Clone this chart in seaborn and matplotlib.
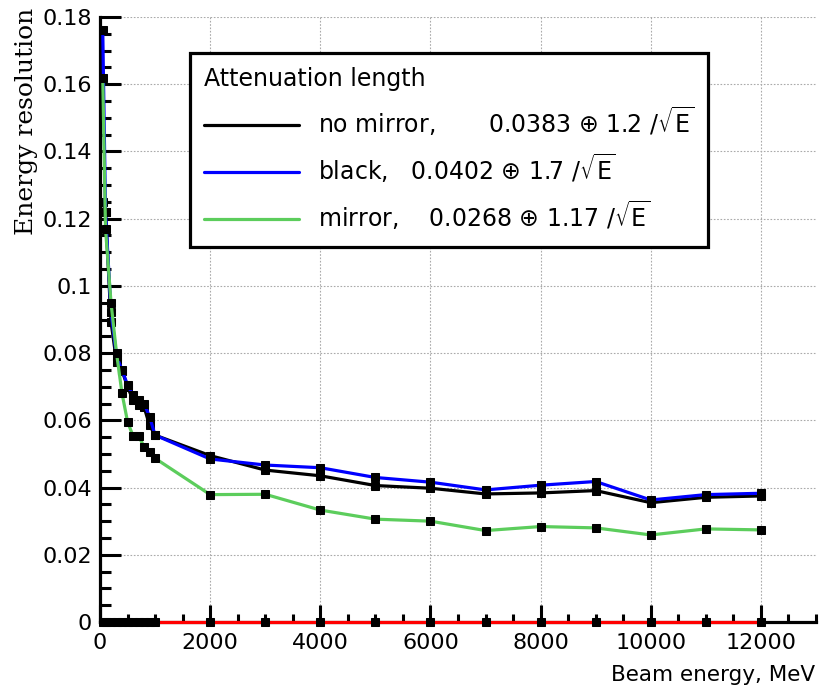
import matplotlib
matplotlib.use("Agg")
import matplotlib.pyplot as plt
import seaborn as sns
import pandas as pd
from matplotlib.lines import Line2D
from matplotlib.ticker import MultipleLocator, FixedLocator

# ---------------- data ----------------
energy = [50, 100, 200, 300, 400, 500, 600, 700, 800, 900, 1000,
          2000, 3000, 4000, 5000, 6000, 7000, 8000, 9000, 10000, 11000, 12000]
no_mirror = [0.125, 0.122, 0.0893, 0.0775, 0.0748, 0.0700, 0.0660, 0.0646, 0.0640, 0.0585, 0.0556,
             0.0495, 0.0452, 0.0435, 0.0406, 0.0398, 0.0381, 0.0384, 0.0391, 0.0355, 0.0371, 0.0375]
black_wrap = [0.176, 0.122, 0.0923, 0.0790, 0.0750, 0.0705, 0.0675, 0.0660, 0.0650, 0.0611, 0.0556,
              0.0485, 0.0467, 0.0459, 0.0430, 0.0416, 0.0393, 0.0407, 0.0418, 0.0363, 0.0379, 0.0383]
mirror = [0.162, 0.117, 0.095, 0.080, 0.068, 0.0596, 0.0553, 0.0553, 0.0522, 0.0507, 0.0487,
          0.0379, 0.0380, 0.0333, 0.0306, 0.0300, 0.0272, 0.0284, 0.0280, 0.0259, 0.0277, 0.0274]
zero_line = [0.0] * len(energy)

legend_title = "Attenuation length"
labels = ["no mirror,       0.0383 \u2295 1.2 /$\\sqrt{\\mathrm{E}}$",
          "black,   0.0402 \u2295 1.7 /$\\sqrt{\\mathrm{E}}$",
          "mirror,    0.0268 \u2295 1.17 /$\\sqrt{\\mathrm{E}}$"]
colors = ["#000000", "#0000ff", "#5ccd5c"]
ytick_vals = [0, 0.02, 0.04, 0.06, 0.08, 0.10, 0.12, 0.14, 0.16, 0.18]
ytick_labels = ["0", "0.02", "0.04", "0.06", "0.08", "0.1", "0.12", "0.14", "0.16", "0.18"]
xtick_vals = [0, 2000, 4000, 6000, 8000, 10000, 12000]

# ---------------- style ----------------
sns.set_theme(style="white")
plt.rcParams["font.family"] = ["DejaVu Sans"]
plt.rcParams["mathtext.fontset"] = "dejavusans"
plt.rcParams["text.color"] = "black"
plt.rcParams["axes.labelcolor"] = "black"
plt.rcParams["legend.labelcolor"] = "black"

fig = plt.figure(figsize=(8.19, 6.87), dpi=100)
ax = fig.add_axes([100 / 819, 1 - 622 / 687, 716 / 819, (622 - 17) / 687])

df = pd.DataFrame({"energy": energy, "no_mirror": no_mirror, "black": black_wrap,
                   "mirror": mirror, "zero": zero_line})

lw = 2.3
mk = dict(marker="s", markersize=5.2, markerfacecolor="black", markeredgecolor="black")
sns.lineplot(data=df, x="energy", y="no_mirror", color=colors[0], lw=lw, ax=ax, legend=False, zorder=3, **mk)
sns.lineplot(data=df, x="energy", y="black", color=colors[1], lw=lw, ax=ax, legend=False, zorder=3, **mk)
sns.lineplot(data=df, x="energy", y="mirror", color=colors[2], lw=lw, ax=ax, legend=False, zorder=3, **mk)
sns.lineplot(data=df, x="energy", y="zero", color="#ff0000", lw=lw, ax=ax, legend=False, zorder=4,
             clip_on=False, **mk)

ax.set_xlim(0, 13000)
ax.set_ylim(0, 0.18)

# ticks
ax.xaxis.set_major_locator(FixedLocator(xtick_vals))
ax.xaxis.set_minor_locator(MultipleLocator(500))
ax.yaxis.set_major_locator(FixedLocator(ytick_vals))
ax.yaxis.set_minor_locator(MultipleLocator(0.005))
ax.set_yticklabels(ytick_labels)
ax.set_xticklabels([str(v) for v in xtick_vals])
ax.tick_params(axis="both", which="both", direction="in", color="black", labelsize=16,
               labelcolor="black")
ax.tick_params(axis="y", which="major", length=15, width=2.2, pad=6, left=True)
ax.tick_params(axis="y", which="minor", length=8, width=2.2, left=True)
ax.tick_params(axis="x", which="major", length=12, width=2.2, pad=8, bottom=True)
ax.tick_params(axis="x", which="minor", length=6, width=2.2, bottom=True)

for s in ["top", "right"]:
    ax.spines[s].set_visible(False)
for s in ["left", "bottom"]:
    ax.spines[s].set_visible(True)
    ax.spines[s].set_color("black")
    ax.spines[s].set_linewidth(2.3)

ax.grid(True, which="major", color="#aaaaaa", linestyle=(0, (1.5, 1.5)), linewidth=0.8)
ax.set_axisbelow(True)

ax.set_xlabel("")
ax.set_ylabel("")
fig.text(815 / 819, 1 - 675 / 687, "Beam energy, MeV", ha="right", va="center", fontsize=15.5,
         color="black")
fig.text(27 / 819, 1 - 8 / 687, "Energy resolution", ha="center", va="top", rotation=90,
         fontsize=18, family="DejaVu Serif", color="black")

# legend
handles = [Line2D([0], [0], color=c, lw=lw) for c in colors]
leg = ax.legend(handles, labels, title=legend_title, loc="upper left",
                bbox_to_anchor=(190 / 819, 1 - 53 / 687), bbox_transform=fig.transFigure,
                fontsize=17, title_fontsize=17, handlelength=4.0, handletextpad=0.8,
                labelspacing=0.58, borderpad=0.6, borderaxespad=0, frameon=True,
                fancybox=False, framealpha=1, edgecolor="black")
leg._legend_box.align = "left"
leg.get_frame().set_linewidth(2.3)
leg.get_title().set_color("black")
for t in leg.get_texts():
    t.set_color("black")
leg.set_zorder(10)

fig.savefig("out.png", dpi=100)
